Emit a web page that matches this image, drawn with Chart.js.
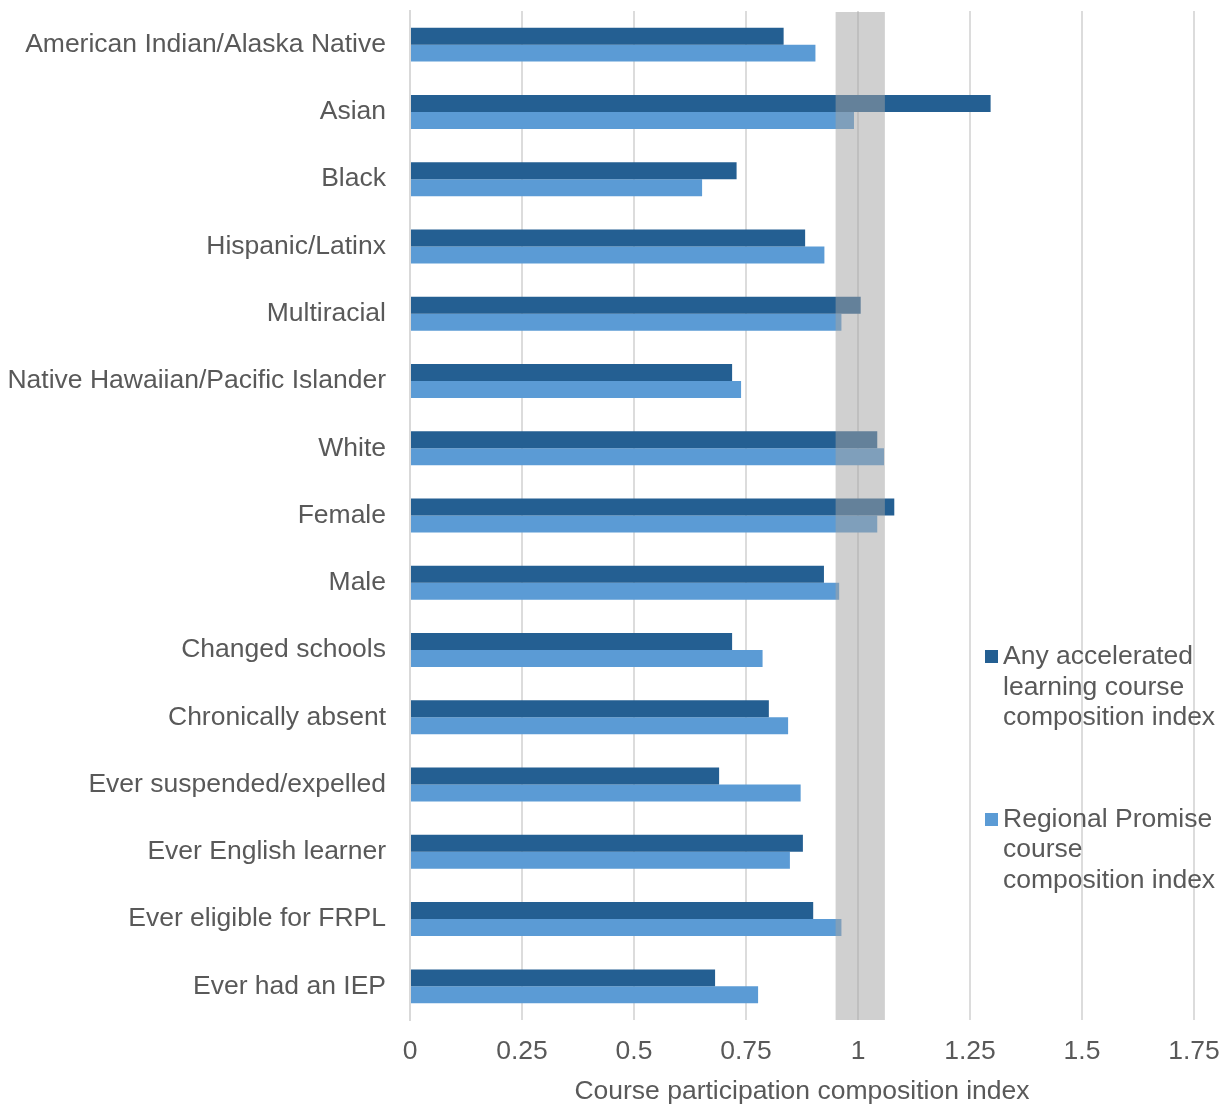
<!DOCTYPE html>
<html>
<head>
<meta charset="utf-8">
<script src="https://cdn.jsdelivr.net/npm/chart.js@4.4.1/dist/chart.umd.min.js"></script>
<style>
    html, body { margin: 0; padding: 0; background: #fff; }
    #wrap { position: relative; width: 1231px; height: 1106px; }
    #legend {
        position: absolute;
        left: 985px;
        top: 640px;
        font-family: "Liberation Sans", Arial, sans-serif;
        font-size: 26.5px;
        line-height: 30.5px;
        color: #595959;
        white-space: nowrap;
    }
    .item { position: relative; padding-left: 18px; }
    .item + .item { margin-top: 71px; }
    .box { position: absolute; left: 0; top: 10px; width: 13px; height: 13px; }
</style>
</head>
<body>
<div id="wrap">
    <canvas id="chart" width="1231" height="1106"></canvas>
    <div id="legend"></div>
</div>
<script>
// Groups on the y axis, top to bottom
const groups = [
    'American Indian/Alaska Native',
    'Asian',
    'Black',
    'Hispanic/Latinx',
    'Multiracial',
    'Native Hawaiian/Pacific Islander',
    'White',
    'Female',
    'Male',
    'Changed schools',
    'Chronically absent',
    'Ever suspended/expelled',
    'Ever English learner',
    'Ever eligible for FRPL',
    'Ever had an IEP'
];

const acceleratedIndex = [0.834, 1.296, 0.729, 0.882, 1.006, 0.719, 1.043, 1.081, 0.924, 0.719, 0.801, 0.690, 0.877, 0.900, 0.681];
const promiseIndex = [0.905, 0.991, 0.652, 0.925, 0.963, 0.739, 1.058, 1.043, 0.958, 0.787, 0.844, 0.872, 0.848, 0.963, 0.777];

const seriesNames = [
    ['Any accelerated', 'learning course', 'composition index'],
    ['Regional Promise', 'course', 'composition index']
];
const seriesColors = ['#245f92', '#5b9bd5'];

// Parity band around 1
const bandMin = 0.95;
const bandMax = 1.06;

const xMax = 1.75;
const xStep = 0.25;

const textColor = '#595959';
const fontFamily = "'Liberation Sans', Arial, sans-serif";
const fontSize = 26.5;

// Shaded band painted over the bars
const parityBand = {
    id: 'parityBand',
    afterDatasetsDraw(chart) {
        const { ctx, chartArea, scales } = chart;
        const x1 = scales.x.getPixelForValue(bandMin);
        const x2 = scales.x.getPixelForValue(bandMax);
        ctx.save();
        ctx.fillStyle = 'rgba(163, 163, 163, 0.51)';
        ctx.fillRect(x1, chartArea.top + 1, x2 - x1, chartArea.bottom - chartArea.top - 1);
        ctx.restore();
    }
};

const ctx = document.getElementById('chart').getContext('2d');
new Chart(ctx, {
    type: 'bar',
    data: {
        labels: groups,
        datasets: [
            { label: seriesNames[0].join(' '), data: acceleratedIndex, backgroundColor: seriesColors[0] },
            { label: seriesNames[1].join(' '), data: promiseIndex, backgroundColor: seriesColors[1] }
        ]
    },
    options: {
        indexAxis: 'y',
        responsive: false,
        animation: false,
        datasets: {
            bar: { categoryPercentage: 0.505, barPercentage: 1.0 }
        },
        layout: { padding: { top: 11, right: 37, left: 0, bottom: 0 } },
        plugins: {
            legend: { display: false },
            tooltip: { enabled: false }
        },
        scales: {
            x: {
                min: 0,
                max: xMax,
                ticks: {
                    stepSize: xStep,
                    padding: 16,
                    color: textColor,
                    font: { family: fontFamily, size: fontSize },
                    callback: (v) => String(+v.toFixed(2))
                },
                grid: { color: '#dcdcdc', lineWidth: 2, drawTicks: false },
                border: { display: false },
                title: {
                    display: true,
                    text: 'Course participation composition index',
                    color: textColor,
                    font: { family: fontFamily, size: fontSize, lineHeight: 1.05 },
                    padding: { top: 4, bottom: 0 }
                },
                afterFit(axis) {
                    axis.height = 86;
                    axis.paddingLeft = 0;
                    axis.paddingRight = 0;
                }
            },
            y: {
                ticks: {
                    padding: 24,
                    color: textColor,
                    font: { family: fontFamily, size: fontSize }
                },
                grid: { display: false, drawTicks: false },
                border: { display: true, color: '#d9d9d9', width: 2 },
                afterFit(axis) {
                    axis.width = 410;
                    axis.paddingTop = 0;
                    axis.paddingBottom = 0;
                }
            }
        }
    },
    plugins: [parityBand]
});

// Legend with wrapped series names
const legendEl = document.getElementById('legend');
seriesNames.forEach((lines, i) => {
    const item = document.createElement('div');
    item.className = 'item';
    item.innerHTML = `<span class="box" style="background:${seriesColors[i]}"></span>` + lines.join('<br>');
    legendEl.appendChild(item);
});
</script>
</body>
</html>
